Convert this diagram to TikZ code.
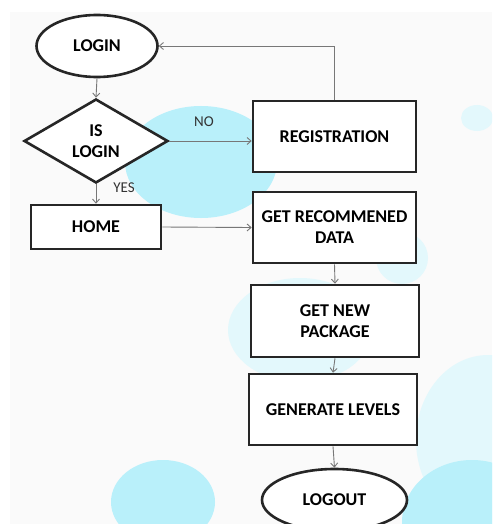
\documentclass[tikz,border=0pt]{standalone}
\usepackage{fontspec}
\setmainfont{Carlito}
\usetikzlibrary{shapes.geometric,arrows.meta}
\definecolor{bgray}{HTML}{FAFAFA}
\definecolor{blobA}{HTML}{B9F0FA}
\definecolor{blobB}{HTML}{E3F8FC}
\definecolor{edgec}{HTML}{262626}
\definecolor{linec}{HTML}{777777}
\definecolor{lblc}{HTML}{333333}
\tikzset{
  boxshape/.style={rectangle, draw=edgec, line width=2.6pt, fill=white, inner sep=0pt, align=center, font=\fontsize{18}{21}\selectfont\bfseries},
  ovalshape/.style={ellipse, draw=edgec, line width=2.6pt, fill=white, inner sep=0pt, align=center, font=\fontsize{18}{21}\selectfont\bfseries},
  diashape/.style={diamond, draw=edgec, line width=2.6pt, fill=white, inner sep=0pt},
  txt/.style={align=center, inner sep=0pt, font=\fontsize{18}{21}\selectfont\bfseries},
  lbl/.style={inner sep=0pt, text=lblc, font=\fontsize{15}{18}\selectfont},
  conn/.style={draw=linec, line width=0.9pt, -{Straight Barb[length=4pt,width=7pt]}},
}
\begin{document}
\begin{tikzpicture}[x=1pt,y=-1pt]
\useasboundingbox (0,0) rectangle (492,524);
\fill[white] (0,0) rectangle (492,524);
\fill[bgray] (10,12) rectangle (492,524);
\begin{scope}
\clip (10,12) rectangle (492,524);
% faint blobs
\fill[blobB] (300,330) ellipse [x radius=72, y radius=52];
\fill[blobB] (402,258) ellipse [x radius=26, y radius=26];
\fill[blobB] (488,440) ellipse [x radius=72, y radius=85];
\fill[blobB] (477,118) ellipse [x radius=16, y radius=13];
% saturated blobs
\fill[blobA] (201,162) ellipse [x radius=76, y radius=56];
\fill[blobA] (163,502) ellipse [x radius=52, y radius=42];
\fill[blobA] (472,522) ellipse [x radius=70, y radius=62];
\end{scope}

\node[ovalshape, minimum width=121pt, minimum height=62pt] (login) at (97,46) {LOGIN};
\node[diashape, minimum width=144pt, minimum height=84pt] (isl) at (96,141) {};
\node[txt] (isltxt) at (96,141) {IS\\LOGIN};
\node[boxshape, minimum width=130pt, minimum height=44pt] (home) at (96,227) {HOME};
\node[boxshape, minimum width=163pt, minimum height=71pt] (reg) at (334.5,136.5) {REGISTRATION};
\node[boxshape, minimum width=163pt, minimum height=71pt] (rec) at (334.5,227.5) {GET RECOMMENED\\DATA};
\node[boxshape, minimum width=168pt, minimum height=72pt] (pkg) at (335,321) {GET NEW\\PACKAGE};
\node[boxshape, minimum width=168pt, minimum height=71pt] (gen) at (333,409.5) {GENERATE LEVELS};
\node[ovalshape, minimum width=145pt, minimum height=62pt] (logout) at (334.5,500) {LOGOUT};

\node[lbl] (nolbl) at (204,122) {NO};
\node[lbl] (yeslbl) at (124,188) {YES};

\draw[conn] (login.south) -- (isl.north);
\draw[conn] (isl.east) -- (isl.east -| reg.west);
\draw[conn] (isl.south) -- (home.north);
\draw[conn] (home.east) -- (rec.west);
\draw[conn] (reg.north) |- (login.east);
\draw[conn] (rec.south) -- (pkg.north);
\draw[conn] (pkg.south) -- (gen.north);
\draw[conn] (gen.south) -- (logout.north);
\end{tikzpicture}
\end{document}
